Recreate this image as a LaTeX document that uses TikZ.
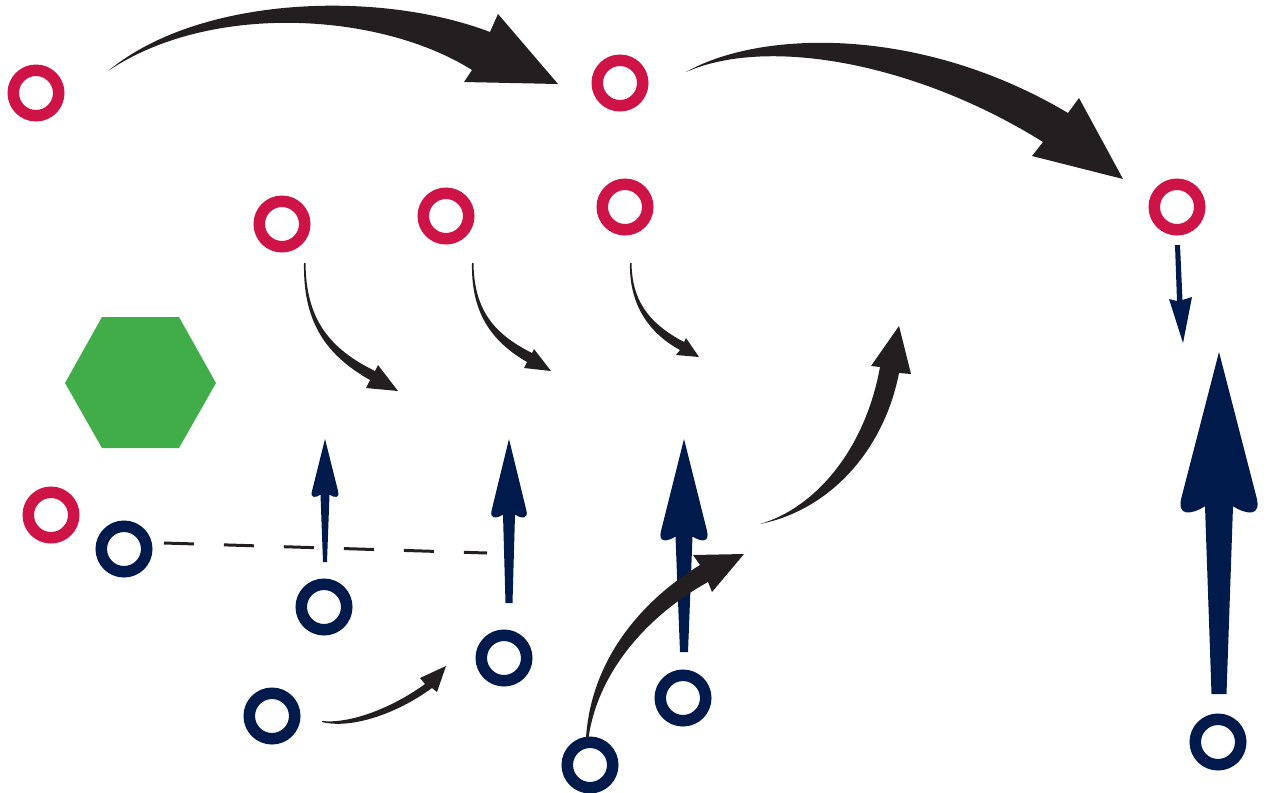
\documentclass[tikz,border=0pt]{standalone}
\definecolor{ringred}{HTML}{CE1446}
\definecolor{ringnavy}{HTML}{001A4B}
\definecolor{arrowblack}{HTML}{231F20}
\definecolor{hexgreen}{HTML}{41AD49}
\newcommand{\navyup}[7]{%
 \fill[navyfill] (#1,#2) -- ({#1+0.93*#4},{#2+0.93*(#3-#2)})
  .. controls ({#1+1.08*#4},{#3+0.25*#4}) and ({#1+#5+0.35*#4},{#3+0.2*#4}) .. ({#1+#5},{#3-0.02*#4})
  -- ({#1+#7},#6) -- ({#1-#7},#6) -- ({#1-#5},{#3-0.02*#4})
  .. controls ({#1-#5-0.35*#4},{#3+0.2*#4}) and ({#1-1.08*#4},{#3+0.25*#4}) .. ({#1-0.93*#4},{#2+0.93*(#3-#2)}) -- cycle;}
\begin{document}
\begin{tikzpicture}[x=0.02cm,y=-0.02cm,
  ring/.style={circle,draw,line width=0.23cm,minimum size=0.91cm,inner sep=0pt},
  redring/.style={ring,draw=ringred},
  navyring/.style={ring,draw=ringnavy},
  swoosh/.style={fill=arrowblack},
  navyfill/.style={fill=ringnavy},
  dashline/.style={draw=arrowblack,line width=0.06cm,dash pattern=on 0.6cm off 0.6cm}]
\useasboundingbox (0,0) rectangle (1267,792);

% hexagon
\fill[hexgreen] (65,383) -- (102,317) -- (179,317) -- (216,383) -- (179,448) -- (102,448) -- cycle;

% red rings
\node[redring] (r1) at (36,93) {};
\node[redring] (r2) at (620,83) {};
\node[redring] (r3) at (282,224) {};
\node[redring] (r4) at (446,216) {};
\node[redring] (r5) at (625,207) {};
\node[redring] (r6) at (1177,207) {};
\node[redring] (r7) at (51,515) {};

% navy rings
\node[navyring] (b1) at (124,549) {};
\node[navyring] (b2) at (324,607) {};
\node[navyring] (b3) at (272,716) {};
\node[navyring] (b4) at (504,658) {};
\node[navyring] (b5) at (683,698) {};
\node[navyring] (b6) at (590,765) {};
\node[navyring] (b7) at (1218,742) {};

% dashed line
\coordinate (d1) at (164,543);
\coordinate (d2) at (487,553);
\draw[dashline] (d1) -- (d2);

% big black swooshes
\fill[swoosh] (108,71) .. controls (200,-5) and (380,-10) .. (490,32) -- (498,14) -- (558,84) -- (464,82) -- (472,70)
  .. controls (380,12) and (210,2) .. (108,71) -- cycle;
\fill[swoosh] (686,72) .. controls (760,30) and (920,25) .. (1068,113) -- (1079,98) -- (1123,179) -- (1032,156) -- (1043,142)
  .. controls (920,65) and (770,35) .. (686,72) -- cycle;

% small black swooshes
\fill[swoosh] (305.5,263) .. controls (306,318) and (328,348) .. (375,371) -- (378,365) -- (398,391) -- (366,388) -- (370,380)
  .. controls (324,354) and (303,320) .. (304,263) -- cycle;
\fill[swoosh] (473.5,263) .. controls (474,310) and (494,334) .. (532,353) -- (534,349) -- (551,371) -- (524,368) -- (527,362)
  .. controls (489,340) and (471,310) .. (472,263) -- cycle;
\fill[swoosh] (631.5,263) .. controls (632,300) and (648,323) .. (684,342) -- (686,338) -- (699,357) -- (676,355) -- (680,350)
  .. controls (645,331) and (629,300) .. (630,263) -- cycle;
\fill[swoosh] (322,721) .. controls (350,724) and (392,708) .. (425,684) -- (420,678) -- (446,666) -- (437,692) -- (432,688)
  .. controls (395,715) and (350,729) .. (322,722) -- cycle;

% navy straight arrows
\navyup{325}{439}{495}{14}{4.5}{562}{2}
\navyup{509}{439}{515}{18.5}{6}{603}{3.5}
\navyup{684}{439}{537}{24.5}{8.5}{652}{4}
\navyup{1219}{352}{507}{40}{14}{694}{7.5}
\fill[navyfill] (1175,245) -- (1180,245) -- (1182.5,300) -- (1192,297) -- (1183,343) -- (1169,299) -- (1177,301) -- cycle;

% swooshes over navy arrow
\fill[swoosh] (586,738) .. controls (591,660) and (641,601) .. (700,565) -- (693,555) -- (744,554) -- (712,592) -- (708,582)
  .. controls (650,614) and (598,670) .. (588.5,738) -- cycle;
\fill[swoosh] (760,524) .. controls (815,508) and (865,450) .. (880,367) -- (871,366) -- (899,326) -- (911,374) -- (899,373)
  .. controls (884,450) and (830,510) .. (760,524) -- cycle;
\end{tikzpicture}
\end{document}
